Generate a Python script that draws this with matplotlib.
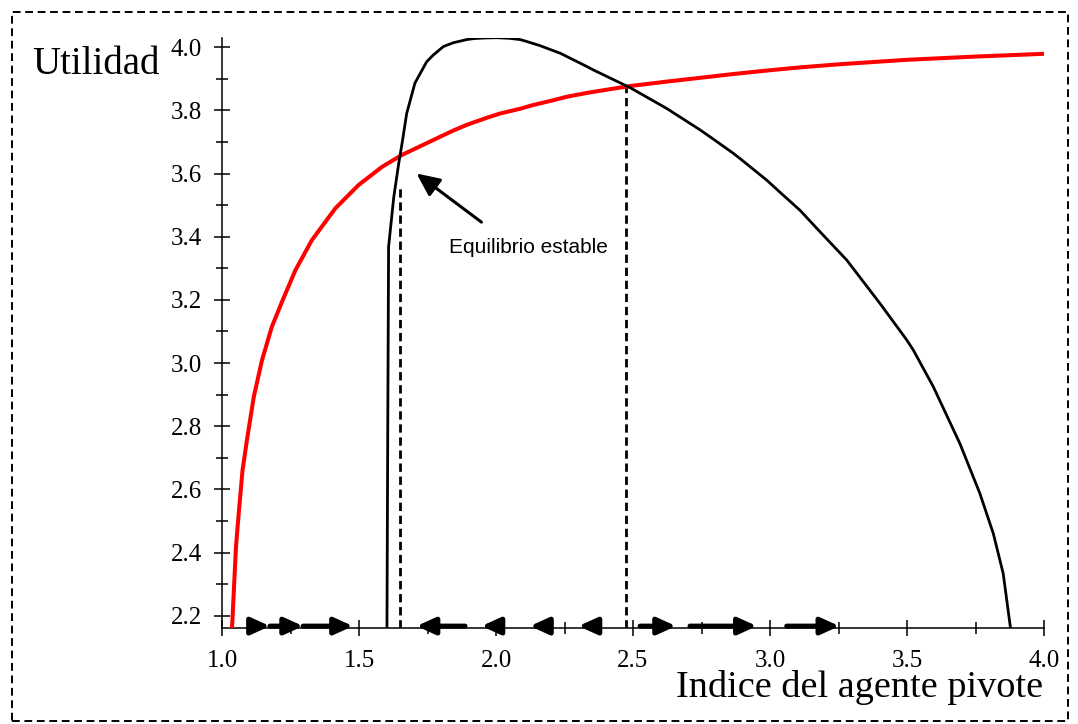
import matplotlib
matplotlib.use("Agg")
import matplotlib.pyplot as plt
from matplotlib.ticker import MultipleLocator, FormatStrFormatter
from matplotlib.patches import Rectangle

# ---- data ----
red_x = [1.0365, 1.051, 1.061, 1.075, 1.091, 1.116, 1.146, 1.182, 1.219, 1.268,
         1.328, 1.414, 1.499, 1.584, 1.655, 1.771, 1.844, 1.893, 1.965, 2.015,
         2.088, 2.136, 2.209, 2.258, 2.331, 2.380, 2.489, 2.623, 2.745, 2.866,
         2.988, 3.109, 3.255, 3.499, 3.742, 4.000]
red_y = [2.159, 2.418, 2.524, 2.661, 2.756, 2.893, 3.009, 3.115, 3.194, 3.294,
         3.389, 3.490, 3.564, 3.621, 3.658, 3.706, 3.736, 3.754, 3.776, 3.790,
         3.805, 3.817, 3.832, 3.843, 3.855, 3.862, 3.877, 3.891, 3.903, 3.915,
         3.926, 3.936, 3.946, 3.960, 3.970, 3.979]

black_x = [1.602, 1.605, 1.608, 1.627, 1.645, 1.658, 1.674, 1.704, 1.747, 1.771,
           1.808, 1.844, 1.893, 1.917, 1.955, 2.002, 2.050, 2.088, 2.112, 2.160,
           2.209, 2.234, 2.331, 2.355, 2.489, 2.623, 2.745, 2.793, 2.866, 2.891,
           2.988, 3.036, 3.109, 3.182, 3.280, 3.401, 3.499, 3.523, 3.596, 3.693,
           3.766, 3.815, 3.851, 3.878]
black_y = [2.159, 2.800, 3.368, 3.526, 3.632, 3.700, 3.790, 3.886, 3.954, 3.975,
           4.002, 4.014, 4.024, 4.027, 4.029, 4.030, 4.028, 4.024, 4.018, 4.005,
           3.989, 3.981, 3.939, 3.928, 3.872, 3.806, 3.738, 3.709, 3.664, 3.647,
           3.579, 3.541, 3.484, 3.416, 3.326, 3.189, 3.073, 3.041, 2.925, 2.745,
           2.587, 2.460, 2.334, 2.159]

# vertical dashed guides: x position and top value
guide_x = [1.650, 2.474]
guide_top = [3.557, 3.877]

# direction arrows along the horizontal axis: (start, end)
flow_start = [1.120, 1.175, 1.296, 1.887, 2.005, 2.185, 2.361, 2.526, 2.708, 3.061]
flow_end = [1.175, 1.296, 1.478, 1.710, 1.947, 2.124, 2.301, 2.657, 2.952, 3.253]

x_ticks = [1.0, 1.5, 2.0, 2.5, 3.0, 3.5, 4.0]
y_ticks = [2.2, 2.4, 2.6, 2.8, 3.0, 3.2, 3.4, 3.6, 3.8, 4.0]

annot_text = "Equilibrio estable"
annot_tip = (1.710, 3.600)
annot_tail = (1.947, 3.446)
annot_text_pos = (1.828, 3.348)

ymin, ymax = 2.161, 4.03

# ---- figure ----
W, H = 1078, 724
fig = plt.figure(figsize=(W / 100, H / 100), dpi=100)
ax = fig.add_axes([222 / W, (H - 628) / H, (1044 - 222) / W, (628 - 37.7) / H])

serif = ["Liberation Serif", "DejaVu Serif"]
sans = ["Liberation Sans", "DejaVu Sans"]

ax.plot(red_x, red_y, color="#ff0000", lw=2.9, solid_capstyle="butt",
        solid_joinstyle="round", zorder=3)
ax.plot(black_x, black_y, color="black", lw=2.0, solid_joinstyle="round",
        zorder=3)

for gx, gt in zip(guide_x, guide_top):
    ax.plot([gx, gx], [ymin, gt], color="black", lw=2.0,
            linestyle=(0, (3, 1.7)), zorder=2)

arrow_y = ymin + 0.006
for s, e in zip(flow_start, flow_end):
    ax.annotate("", xy=(e, arrow_y), xytext=(s, arrow_y),
                arrowprops=dict(arrowstyle="-|>,head_length=11,head_width=5",
                                mutation_scale=1, lw=3.6, color="black",
                                shrinkA=0, shrinkB=0),
                annotation_clip=False, zorder=4)

ax.annotate("", xy=annot_tip, xytext=annot_tail,
            arrowprops=dict(arrowstyle="-|>,head_length=14,head_width=6.5",
                            mutation_scale=1, lw=2.2, color="black",
                            shrinkA=0, shrinkB=0), zorder=4)
ax.text(annot_text_pos[0], annot_text_pos[1], annot_text, family=sans,
        fontsize=15, ha="left", va="baseline")

ax.set_xlim(1.0, 4.0)
ax.set_ylim(ymin, ymax)
for side in ("top", "right"):
    ax.spines[side].set_visible(False)
for side in ("left", "bottom"):
    ax.spines[side].set_linewidth(1.1)

ax.set_xticks(x_ticks)
ax.set_yticks(y_ticks)
ax.xaxis.set_minor_locator(MultipleLocator(0.25))
ax.yaxis.set_minor_locator(MultipleLocator(0.1))
ax.xaxis.set_major_formatter(FormatStrFormatter("%.1f"))
ax.yaxis.set_major_formatter(FormatStrFormatter("%.1f"))
ax.tick_params(which="major", direction="inout", length=11.5, width=1.1,
               labelsize=18)
ax.tick_params(which="minor", direction="inout", length=8, width=1.1)
ax.tick_params(axis="x", which="major", pad=10)
ax.tick_params(axis="y", which="major", pad=8.5)
for lab in ax.get_xticklabels() + ax.get_yticklabels():
    lab.set_family(serif)

fig.text(32 / W, 1 - 74 / H, "Utilidad", family=serif, fontsize=28,
         ha="left", va="baseline")
fig.text(1043 / W, 1 - 697 / H, "Indice del agente pivote", family=serif,
         fontsize=27.5, ha="right", va="baseline")

border = Rectangle((12 / W, (H - 721) / H), (1068 - 12) / W, (721 - 12) / H,
                   transform=fig.transFigure, fill=False, edgecolor="black",
                   lw=1.4, linestyle=(0, (4, 2.4)))
fig.patches.append(border)

fig.savefig("out.png", dpi=100)
